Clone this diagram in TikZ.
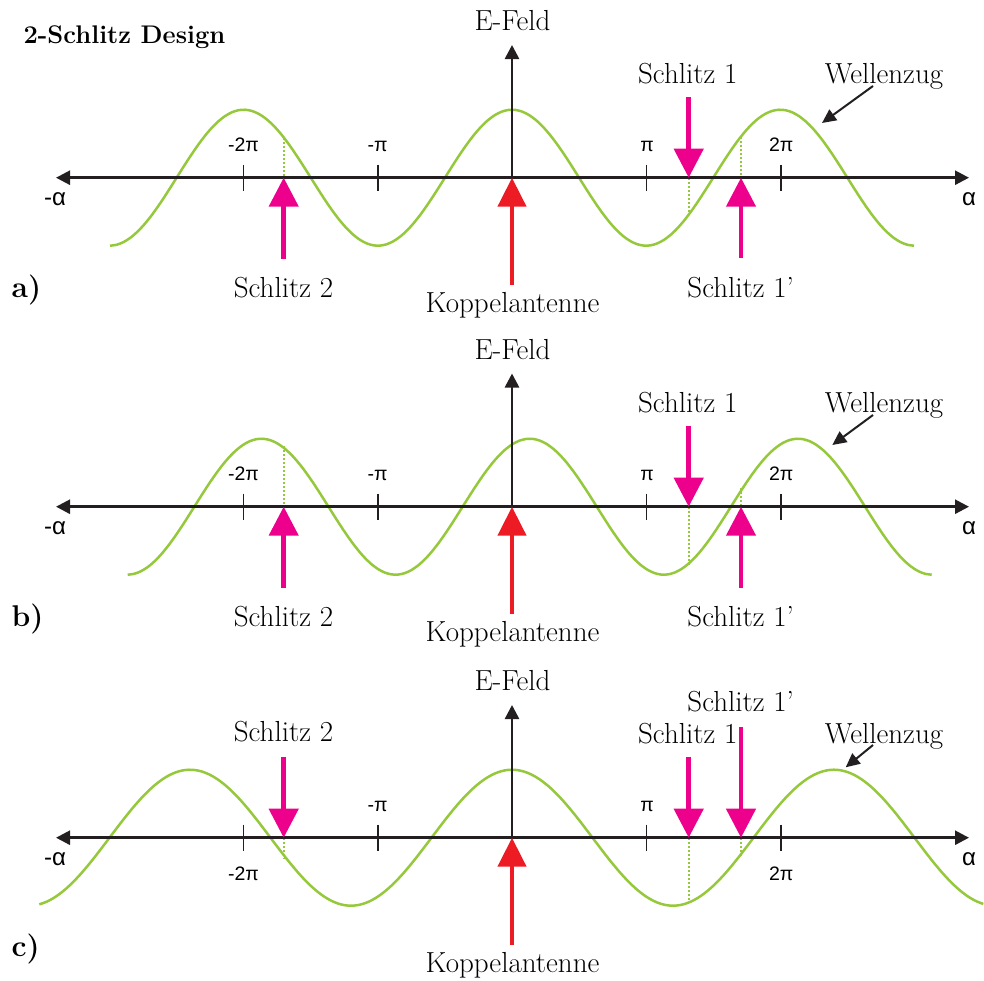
\documentclass[tikz,border=0pt]{standalone}
\usepackage{fontspec}
\newfontfamily\sansfam{Liberation Sans}
\usetikzlibrary{arrows.meta}
\definecolor{wavegreen}{RGB}{150,200,60}
\definecolor{slitpink}{RGB}{236,0,140}
\definecolor{antred}{RGB}{237,28,36}
\definecolor{axisblack}{RGB}{35,31,32}
\begin{document}
\begin{tikzpicture}[x=1pt,y=-1pt,
 haxis/.style={draw=axisblack,line width=2.6pt,{Triangle[length=14pt,width=14pt]}-{Triangle[length=14pt,width=14pt]}},
 vaxis/.style={draw=axisblack,line width=2.6pt,-{Triangle[length=14pt,width=14pt]}},
 tickmark/.style={draw=axisblack,line width=1.3pt},
 wave/.style={draw=wavegreen,line width=2.5pt},
 guide/.style={draw=wavegreen,line width=2.3pt,dash pattern=on 2pt off 2pt},
 slit/.style={draw=slitpink,line width=4.5pt,-{Triangle[length=29pt,width=29pt]}},
 antenna/.style={draw=antred,line width=4.5pt,-{Triangle[length=29pt,width=28pt]}},
 pointer/.style={draw=axisblack,line width=2pt,-{Triangle[length=14pt,width=13pt]}},
 lbl/.style={font=\fontsize{29}{33}\selectfont,inner sep=0pt,anchor=base},
 ticklbl/.style={font=\sansfam\fontsize{19.5}{22}\selectfont,inner sep=0pt,anchor=base},
 alphalbl/.style={font=\sansfam\fontsize{24}{28}\selectfont,inner sep=0pt,anchor=base},
 panellbl/.style={font=\bfseries\fontsize{30}{34}\selectfont,inner sep=0pt,anchor=base west},
]
\useasboundingbox (0,0) rectangle (984,980);

\node[font=\bfseries\fontsize{25.5}{30}\selectfont,inner sep=0pt,anchor=base west] (title) at (23.3,43.3) {2-Schlitz Design};

% ================= Panel a =================
\draw[wave] plot[smooth,samples=120,domain=110:914] (\x,{177.7-68*cos((\x-512)/268.3*360)});
\coordinate (a-s2w) at (283.7,137.7);
\coordinate (a-s2) at (283.7,177.7);
\coordinate (a-s1w) at (688.7,215.0);
\coordinate (a-s1) at (688.7,177.7);
\coordinate (a-s1pw) at (741,136.8);
\coordinate (a-s1p) at (741,177.7);
\draw[guide] (a-s2w) -- (a-s2);
\draw[guide] (a-s1) -- (a-s1w);
\draw[guide] (a-s1pw) -- (a-s1p);
\coordinate (a-L) at (56,177.7);
\coordinate (a-R) at (969,177.7);
\coordinate (a-O) at (512,177.7);
\coordinate (a-Y) at (512,45);
\draw[haxis] (a-L) -- (a-R);
\draw[vaxis] (a-O) -- (a-Y);
\foreach \t in {243.7,378,646.7,781} \draw[tickmark] (\t,164.7) -- (\t,190.7);
\node[ticklbl] (a-m2pi) at (243.5,151.7) {-2π};
\node[ticklbl] (a-mpi) at (377.5,151.7) {-π};
\node[ticklbl] (a-pi) at (647,151.7) {π};
\node[ticklbl] (a-2pi) at (781.2,151.7) {2π};
\node[alphalbl] (a-malpha) at (55,205) {-α};
\node[alphalbl] (a-alpha) at (969,205) {α};
\node[lbl] (a-efeld) at (512.5,30) {E-Feld};
\coordinate (a-s2b) at (283.7,259);
\coordinate (a-s1t) at (688.7,97);
\coordinate (a-s1pb) at (741,258);
\coordinate (a-kb) at (512,285);
\draw[slit] (a-s2b) -- (a-s2);
\draw[slit] (a-s1t) -- (a-s1);
\draw[slit] (a-s1pb) -- (a-s1p);
\draw[antenna] (a-kb) -- (a-O);
\node[lbl] (a-schlitz2) at (283.5,297.7) {Schlitz 2};
\node[lbl] (a-schlitz1) at (687.8,83.3) {Schlitz 1};
\node[lbl] (a-schlitz1p) at (740.7,297.7) {Schlitz 1’};
\node[lbl] (a-koppel) at (512.5,312.3) {Koppelantenne};
\node[lbl] (a-wellen) at (884,83.3) {Wellenzug};
\coordinate (a-wt) at (873,86);
\coordinate (a-wh) at (822,123);
\draw[pointer] (a-wt) -- (a-wh);
\node[panellbl] (a-panel) at (11.5,297.7) {a)};

% ================= Panel b =================
\draw[wave] plot[smooth,samples=120,domain=127.7:931.7] (\x,{506.7-68*cos((\x-529.7)/268.3*360)});
\coordinate (b-s2w) at (283.7,446);
\coordinate (b-s2) at (283.7,506.7);
\coordinate (b-s1w) at (688.7,565);
\coordinate (b-s1) at (688.7,506.7);
\coordinate (b-s1pw) at (741,488);
\coordinate (b-s1p) at (741,506.7);
\draw[guide] (b-s2w) -- (b-s2);
\draw[guide] (b-s1) -- (b-s1w);
\draw[guide] (b-s1pw) -- (b-s1p);
\coordinate (b-L) at (56,506.7);
\coordinate (b-R) at (969,506.7);
\coordinate (b-O) at (512,506.7);
\coordinate (b-Y) at (512,373.5);
\draw[haxis] (b-L) -- (b-R);
\draw[vaxis] (b-O) -- (b-Y);
\foreach \t in {243.7,378,646.7,781} \draw[tickmark] (\t,493.7) -- (\t,519.7);
\node[ticklbl] (b-m2pi) at (243.5,480.7) {-2π};
\node[ticklbl] (b-mpi) at (377.5,480.7) {-π};
\node[ticklbl] (b-pi) at (647,480.7) {π};
\node[ticklbl] (b-2pi) at (781.2,480.7) {2π};
\node[alphalbl] (b-malpha) at (55,534) {-α};
\node[alphalbl] (b-alpha) at (969,534) {α};
\node[lbl] (b-efeld) at (512.5,359) {E-Feld};
\coordinate (b-s2b) at (283.7,587.7);
\coordinate (b-s1t) at (688.7,425.7);
\coordinate (b-s1pb) at (741,587.7);
\coordinate (b-kb) at (512,614);
\draw[slit] (b-s2b) -- (b-s2);
\draw[slit] (b-s1t) -- (b-s1);
\draw[slit] (b-s1pb) -- (b-s1p);
\draw[antenna] (b-kb) -- (b-O);
\node[lbl] (b-schlitz2) at (283.5,626.7) {Schlitz 2};
\node[lbl] (b-schlitz1) at (687.8,412.3) {Schlitz 1};
\node[lbl] (b-schlitz1p) at (740.7,626.7) {Schlitz 1’};
\node[lbl] (b-koppel) at (512.5,641.3) {Koppelantenne};
\node[lbl] (b-wellen) at (884,412.3) {Wellenzug};
\coordinate (b-wt) at (873,415);
\coordinate (b-wh) at (832.3,445);
\draw[pointer] (b-wt) -- (b-wh);
\node[panellbl] (b-panel) at (11.5,626.7) {b)};

% ================= Panel c =================
\draw[wave] plot[smooth,samples=140,domain=39.3:983.3] (\x,{837.7-68*cos((\x-512)/322*360)});
\coordinate (c-s2w) at (283.7,858);
\coordinate (c-s2) at (283.7,837.7);
\coordinate (c-s1w) at (688.7,902.5);
\coordinate (c-s1) at (688.7,837.7);
\coordinate (c-s1pw) at (741,857);
\coordinate (c-s1p) at (741,837.7);
\draw[guide] (c-s2) -- (c-s2w);
\draw[guide] (c-s1) -- (c-s1w);
\draw[guide] (c-s1p) -- (c-s1pw);
\coordinate (c-L) at (56,837.7);
\coordinate (c-R) at (969,837.7);
\coordinate (c-O) at (512,837.7);
\coordinate (c-Y) at (512,705);
\draw[haxis] (c-L) -- (c-R);
\draw[vaxis] (c-O) -- (c-Y);
\foreach \t in {243.7,378,646.7,781} \draw[tickmark] (\t,824.7) -- (\t,850.7);
\node[ticklbl] (c-m2pi) at (243.5,880) {-2π};
\node[ticklbl] (c-mpi) at (377.5,811.7) {-π};
\node[ticklbl] (c-pi) at (647,811.7) {π};
\node[ticklbl] (c-2pi) at (781.2,880) {2π};
\node[alphalbl] (c-malpha) at (55,865) {-α};
\node[alphalbl] (c-alpha) at (969,865) {α};
\node[lbl] (c-efeld) at (512.5,690) {E-Feld};
\coordinate (c-s2t) at (283.7,756.7);
\coordinate (c-s1t) at (688.7,756.7);
\coordinate (c-s1pt) at (741,726.7);
\coordinate (c-kb) at (512,945);
\draw[slit] (c-s2t) -- (c-s2);
\draw[slit] (c-s1t) -- (c-s1);
\draw[slit] (c-s1pt) -- (c-s1p);
\draw[antenna] (c-kb) -- (c-O);
\node[lbl] (c-schlitz2) at (283.5,741.7) {Schlitz 2};
\node[lbl] (c-schlitz1) at (687.8,743.3) {Schlitz 1};
\node[lbl] (c-schlitz1p) at (740.7,711.7) {Schlitz 1’};
\node[lbl] (c-koppel) at (512.5,972.3) {Koppelantenne};
\node[lbl] (c-wellen) at (884,743.3) {Wellenzug};
\coordinate (c-wt) at (873,745);
\coordinate (c-wh) at (845.7,767.3);
\draw[pointer] (c-wt) -- (c-wh);
\node[panellbl] (c-panel) at (11.5,956.7) {c)};
\end{tikzpicture}
\end{document}
